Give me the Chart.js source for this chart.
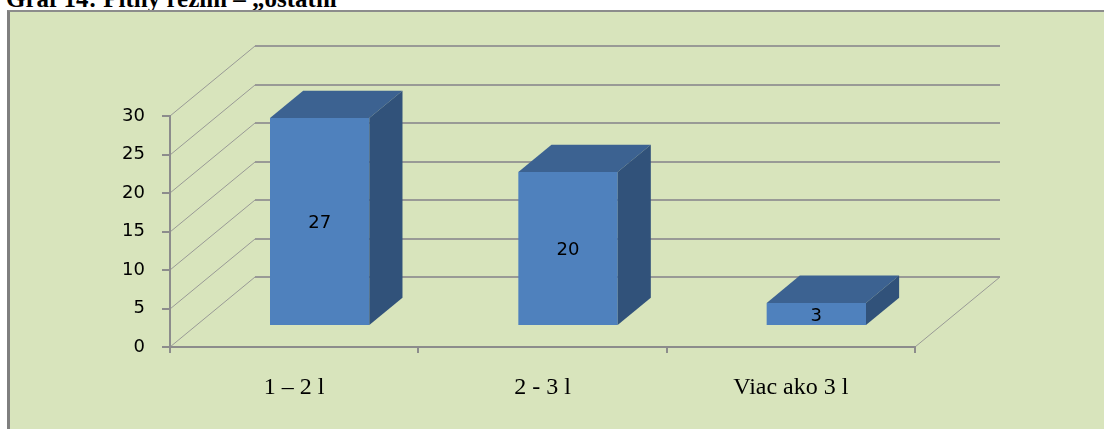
<!DOCTYPE html>
<html>
<head>
<meta charset="utf-8">
<script src="https://cdn.jsdelivr.net/npm/chart.js@4/dist/chart.umd.min.js"></script>
<style>
  html, body { margin: 0; padding: 0; background: #fff; width: 1104px; height: 429px; overflow: hidden; }
  #title { position: absolute; left: 6px; top: -13px; font: bold 25px/24px "Liberation Serif", "Times New Roman", serif; color: #000; white-space: nowrap; }
  #frame { position: absolute; left: 7px; top: 10px; right: 0; bottom: 0; background: #d8e4bc; border-left: 3px solid #7f7f7f; border-top: 2px solid #8c8c8c; }
  #graf { display: block; }
</style>
</head>
<body>
<div id="title">Graf 14: Pitný režim – „ostatní“</div>
<div id="frame"><canvas id="graf" width="1094" height="417"></canvas></div>
<script>
  const categories = ['1 – 2 l', '2 - 3 l', 'Viac ako 3 l'];
  const counts = [27, 20, 3];
  const yTicks = [0, 5, 10, 15, 20, 25, 30];

  // depth of the walls/floor, and the slice of it the columns stand in
  const DEPTH = { x: 85, y: -70 };
  const COL_FRONT = 0.3;
  const COL_BACK = 0.69;

  const GRID = '#999a96';
  const AXIS = '#8c8c8c';
  const FRONT = '#4f81bd';
  const TOP = '#3c6291';
  const SIDE = '#31527a';

  const walls = {
    id: 'walls',
    beforeDraw(chart) {
      const { ctx } = chart;
      const { left, right, bottom } = chart.chartArea;
      const y = chart.scales.y;
      ctx.save();
      ctx.strokeStyle = GRID;
      y.ticks.forEach(t => {
        const py = Math.round(y.getPixelForValue(t.value));
        // slanted line on the side wall
        ctx.lineWidth = 1;
        ctx.beginPath();
        ctx.moveTo(left, py);
        ctx.lineTo(left + DEPTH.x, py + DEPTH.y);
        ctx.stroke();
        // gridline on the back wall
        ctx.lineWidth = 2;
        ctx.beginPath();
        ctx.moveTo(left + DEPTH.x, py + DEPTH.y);
        ctx.lineTo(right + DEPTH.x, py + DEPTH.y);
        ctx.stroke();
      });
      // right edge of the floor
      ctx.lineWidth = 1;
      ctx.beginPath();
      ctx.moveTo(right, bottom);
      ctx.lineTo(right + DEPTH.x, bottom + DEPTH.y);
      ctx.stroke();
      ctx.restore();
    },
    beforeDatasetsDraw(chart) {
      // columns stand a bit back from the front edge of the floor
      chart.ctx.save();
      chart.ctx.translate(DEPTH.x * COL_FRONT, DEPTH.y * COL_FRONT);
    },
    afterDatasetsDraw(chart) {
      const { ctx } = chart;
      const dx = DEPTH.x * (COL_BACK - COL_FRONT);
      const dy = DEPTH.y * (COL_BACK - COL_FRONT);
      chart.getDatasetMeta(0).data.forEach((bar, i) => {
        const { x, y, base, width } = bar.getProps(['x', 'y', 'base', 'width'], true);
        const l = x - width / 2, r = x + width / 2;
        ctx.fillStyle = TOP;
        ctx.beginPath();
        ctx.moveTo(l, y);
        ctx.lineTo(r, y);
        ctx.lineTo(r + dx, y + dy);
        ctx.lineTo(l + dx, y + dy);
        ctx.closePath();
        ctx.fill();
        ctx.fillStyle = SIDE;
        ctx.beginPath();
        ctx.moveTo(r, y);
        ctx.lineTo(r + dx, y + dy);
        ctx.lineTo(r + dx, base + dy);
        ctx.lineTo(r, base);
        ctx.closePath();
        ctx.fill();

        ctx.fillStyle = '#000';
        ctx.font = '18px "DejaVu Sans", sans-serif';
        ctx.textAlign = 'center';
        ctx.textBaseline = 'middle';
        ctx.fillText(String(counts[i]), x, (y + base) / 2 + 2);
      });
      ctx.restore();
    }
  };

  new Chart(document.getElementById('graf'), {
    type: 'bar',
    data: {
      labels: categories,
      datasets: [{
        data: counts,
        backgroundColor: FRONT,
        borderWidth: 0,
        barPercentage: 0.4,
        categoryPercentage: 1,
        clip: false,
      }]
    },
    options: {
      responsive: false,
      animation: false,
      layout: { padding: { left: 0, right: 189, top: 104, bottom: 0 } },
      plugins: {
        legend: { display: false },
        tooltip: { enabled: false },
      },
      scales: {
        x: {
          offset: true,
          grid: { offset: true, drawOnChartArea: false, tickLength: 6, color: AXIS, lineWidth: 2 },
          border: { color: AXIS, width: 2 },
          ticks: {
            color: '#000',
            padding: 20,
            maxRotation: 0,
            font: { family: '"Liberation Serif", "Times New Roman", serif', size: 24 },
          },
          afterFit: s => { s.height = 82; },
        },
        y: {
          min: 0,
          max: 30,
          grid: { drawOnChartArea: false, tickLength: 8, color: AXIS, lineWidth: 2 },
          border: { color: AXIS, width: 2 },
          ticks: {
            color: '#000',
            padding: 17,
            font: { family: '"DejaVu Sans", sans-serif', size: 18 },
          },
          afterBuildTicks: s => { s.ticks = yTicks.map(v => ({ value: v })); },
          afterFit: s => { s.width = 160; },
        },
      },
    },
    plugins: [walls],
  });
</script>
</body>
</html>
